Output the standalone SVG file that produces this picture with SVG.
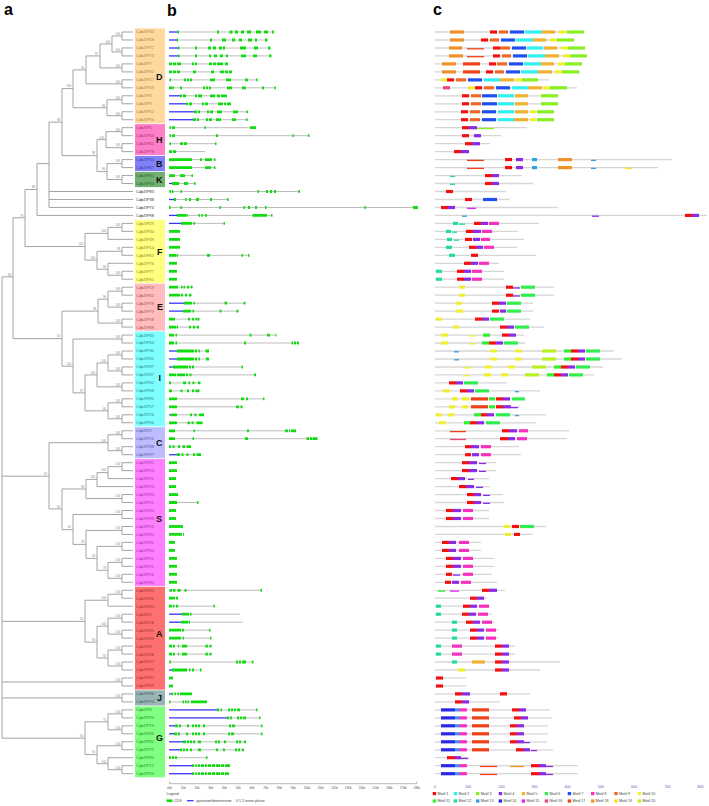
<svg xmlns="http://www.w3.org/2000/svg" width="709" height="806" viewBox="0 0 709 806">
<style>
text{font-family:"Liberation Sans",Arial,sans-serif}
.nm{font-size:4px}
.gl{font-size:9px;font-weight:bold;fill:#111}
.pl{font-size:16px;font-weight:bold;fill:#000}
.tr path{fill:none;stroke:#9a9a9a;stroke-width:0.9;vector-effect:non-scaling-stroke}
.bs text{font-size:2.8px;fill:#808080;text-anchor:end}
.in{stroke:#bdbdbd;stroke-width:1;fill:none}
.ut{stroke:#3535ff;stroke-width:1.3;fill:none}
.ex{stroke:#10dd10;stroke-width:2.8;fill:none}
.ml{stroke:#d6d6d6;stroke-width:1.3;fill:none}
.m{stroke-width:3.2;fill:none}
.th{stroke-width:1.3}
.m1{stroke:#f41010}.m2{stroke:#30f0f0}.m3{stroke:#88f020}.m4{stroke:#8a2be8}.m5{stroke:#f2b030}
.m6{stroke:#30ee50}.m7{stroke:#2050f0}.m8{stroke:#f830c0}.m9{stroke:#f06828}.m10{stroke:#f0f030}
.m11{stroke:#30ee30}.m12{stroke:#20dca0}.m13{stroke:#30a0e0}.m14{stroke:#2828e8}.m15{stroke:#e020f0}
.m16{stroke:#e84878}.m17{stroke:#f04018}.m18{stroke:#f09028}.m19{stroke:#f8e020}.m20{stroke:#b8f020}
.nD{fill:#a8863a}.nH{fill:#a83070}.nB{fill:#3838a0}.nK{fill:#2e602e}.nU{fill:#333}.nF{fill:#8a8a20}
.nE{fill:#a05454}.nI{fill:#208888}.nC{fill:#5a5aa0}.nS{fill:#a030a0}.nA{fill:#a03030}.nJ{fill:#3e5858}.nG{fill:#2a902a}
.ax{stroke:#888;stroke-width:0.6;fill:none}
.sm{font-size:3px;fill:#555}
.lg{font-size:3.6px;fill:#444}
.bl{font-size:3.6px;fill:#5060c0}
</style>

<text class="pl" x="4" y="15">a</text>
<text class="pl" x="167" y="16">b</text>
<text class="pl" x="433" y="15">c</text>

<g id="groups">
<rect x="135" y="28.4" width="30" height="94.9" fill="#ffd9a0"/>
<rect x="135" y="124.1" width="30" height="31.1" fill="#ff80c8"/>
<rect x="135" y="156" width="30" height="15.2" fill="#8080f8"/>
<rect x="135" y="172" width="30" height="15.1" fill="#70b070"/>
<rect x="135" y="219.8" width="30" height="63" fill="#ffff80"/>
<rect x="135" y="283.6" width="30" height="47.1" fill="#ffbcbc"/>
<rect x="135" y="331.5" width="30" height="94.9" fill="#80ffff"/>
<rect x="135" y="427.2" width="30" height="31.1" fill="#bcbcff"/>
<rect x="135" y="459.1" width="30" height="126.8" fill="#ff80ff"/>
<rect x="135" y="586.7" width="30" height="102.9" fill="#ff7070"/>
<rect x="135" y="690.3" width="30" height="15.2" fill="#98b4b4"/>
<rect x="135" y="706.3" width="30" height="71" fill="#80ff80"/>
<text class="gl" x="156" y="80">D</text>
<text class="gl" x="156" y="142.5">H</text>
<text class="gl" x="156" y="166.5">B</text>
<text class="gl" x="156" y="182.5">K</text>
<text class="gl" x="157" y="254.5">F</text>
<text class="gl" x="157" y="309.5">E</text>
<text class="gl" x="158.5" y="380.5">I</text>
<text class="gl" x="156" y="445.5">C</text>
<text class="gl" x="156" y="522">S</text>
<text class="gl" x="156" y="637">A</text>
<text class="gl" x="157" y="701">J</text>
<text class="gl" x="156" y="740.5">G</text>
</g>

<g id="connectors" class="tr" transform="matrix(1,0,0,7.975,0,32)">
<path d="M133 0H122V1H133M133 2H122V3H133M122 0.5H112V2.5H122"/>
<path d="M133 4H122V5H133M112 1.5H100V4.5H122M133 6H122V7H133M100 3H86V6.5H122"/>
<path d="M133 8H122V9H133M133 10H122V11H133M122 8.5H107V10.5H122M86 4.75H73V9.5H107"/>
<path d="M133 12H122V13H133M133 14H122V15H133M122 12.5H106V14.5H122"/>
<path d="M133 16H122V17H133M133 18H122V19H133M122 16.5H107V18.5H122M106 13.5H97V17.5H107M73 7.1H62V15.5H97"/>
<path d="M62 11.3H49V22H133M49 20H133M49 21H133M49 16.5H37V23H133"/>
<path d="M133 24H122V25H133M122 24.5H108V26H133M133 27H122V28H133M133 30H122V31H133M122 30.5H108V29H133M122 27.5H97V29.75H108M108 25.25H85V28.6H97"/>
<path d="M37 19.75H25V26.9H85M25 23.3H13V38.45H62"/>
<path d="M133 32H122V33H133M133 34H122V35H133M122 32.5H108V34.5H122M133 36H122V37H133M108 33.5H98V36.5H122"/>
<path d="M133 38H122V39H133M133 40H122V41H133M133 42H122V43H133M122 40.5H108V42.5H122M133 44H122V45H133M108 41.5H97V44.5H122"/>
<path d="M133 46H122V47H133M133 48H122V49H133M122 46.5H108V48.5H122M97 43H85V47.5H108M122 38.5H73V45.25H85M98 35H62V41.9H73"/>
<path d="M133 50H122V51H133M133 52H122V53H133M122 50.5H108V52.5H122"/>
<path d="M133 54H122V55H133M122 54.5H108V56H133M108 55.25H97V57H133M133 58H122V59H133M97 56.1H86V58.5H122"/>
<path d="M133 60H122V61H133M133 62H122V63H133M133 64H122V65H133M133 66H122V67H133M133 68H122V69H133"/>
<path d="M122 66.5H108V68.5H122M122 64.5H97V67.5H108M122 62.5H86V66H97M122 60.5H73V64.25H86M86 57.3H62V62.4H73M108 51.5H49V59.8H62"/>
<path d="M133 70H122V71H133M122 70.5H108V72H133M133 73H122V74H133M133 75H122V76H133M122 73.5H108V75.5H122"/>
<path d="M133 77H122V78H133M133 79H122V80H133M122 77.5H108V79.5H122M108 74.5H97V78.5H108M108 71.25H85V76.5H97"/>
<path d="M133 81H122V82H133M133 83H122V84H133"/>
<path d="M133 85H122V86H133M133 87H122V88H133M122 85.5H108V87.5H122M133 89H122V90H133M133 92H122V93H133M122 92.5H108V91H133M122 89.5H97V91.75H108M108 86.5H85V90.6H97"/>
<path d="M13 30.7H2V88.55H85M2 55.7H49M2 73.9H85M2 81.5H122M2 83.5H122"/>
</g>

<g id="bootstrap" class="bs">
<text x="120" y="34.8">100</text><text x="120" y="50.7">100</text><text x="110" y="42.8">100</text><text x="120" y="66.7">100</text><text x="98" y="54.7">97</text><text x="120" y="82.6">100</text><text x="84" y="68.7">96</text><text x="120" y="98.6">100</text><text x="120" y="114.5">100</text><text x="105" y="106.6">96</text><text x="71" y="87.4">100</text>
<text x="120" y="130.5">100</text><text x="120" y="146.4">100</text><text x="104" y="138.5">100</text><text x="120" y="162.4">100</text><text x="120" y="178.3">100</text><text x="105" y="170.4">96</text><text x="95" y="154.4">98</text><text x="60" y="120.9">98</text><text x="35" y="188.3">88</text><text x="23" y="216.6">73</text><text x="11" y="275.6">64</text>
<text x="120" y="226.2">100</text><text x="106" y="232.2">100</text><text x="120" y="250.1">98</text><text x="120" y="274">100</text><text x="106" y="268.1">94</text><text x="95" y="258.9">100</text><text x="83" y="245.3">100</text>
<text x="120" y="290">100</text><text x="120" y="305.9">100</text><text x="106" y="298">96</text><text x="120" y="321.9">100</text><text x="96" y="309.9">98</text><text x="60" y="337.4">55</text>
<text x="120" y="337.8">100</text><text x="120" y="353.8">100</text><text x="120" y="369.7">100</text><text x="106" y="361.8">100</text><text x="120" y="385.7">100</text><text x="95" y="373.7">100</text><text x="120" y="401.6">100</text><text x="120" y="417.6">100</text><text x="106" y="409.6">66</text><text x="83" y="391.7">97</text><text x="71" y="365">100</text>
<text x="120" y="433.5">100</text><text x="120" y="449.5">100</text><text x="106" y="441.5">100</text>
<text x="120" y="465.4">100</text><text x="106" y="471.4">100</text><text x="95" y="478.2">100</text><text x="120" y="497.3">100</text><text x="84" y="487.8">98</text><text x="120" y="513.3">100</text><text x="120" y="529.2">100</text><text x="120" y="545.2">100</text><text x="120" y="561.1">100</text><text x="120" y="577.1">100</text><text x="106" y="569.1">74</text><text x="95" y="557.2">58</text><text x="84" y="543.2">58</text><text x="71" y="528.4">62</text><text x="60" y="507.7">62</text><text x="47" y="475">62</text>
<text x="120" y="593">100</text><text x="106" y="599">100</text><text x="120" y="617">100</text><text x="120" y="632.9">100</text><text x="106" y="624.9">100</text><text x="120" y="648.9">100</text><text x="120" y="664.8">100</text><text x="106" y="656.8">92</text><text x="95" y="640.9">93</text><text x="83" y="620.2">55</text><text x="120" y="680.8">100</text>
<text x="120" y="696.7">100</text>
<text x="120" y="712.7">100</text><text x="120" y="728.6">100</text><text x="106" y="720.6">75</text><text x="120" y="744.6">100</text><text x="120" y="768.5">100</text><text x="106" y="762.5">100</text><text x="95" y="753.3">56</text><text x="83" y="737">56</text>
</g>

<g id="rows">
<g id="r0" transform="translate(0,32)"><text class="nm nD" x="136" y="1.4">CqbZIP43</text><path class="in" d="M178 0H273"/><path class="ut" d="M169 0H178"/><path class="ex" d="M177.5 0H179M217 0H219M229.5 0H232.5M235 0H238M241 0H244M247 0H251M256 0H261M264 0H268M272 0H274"/><path class="ml" d="M435 0H584"/><path class="m m18" d="M450 0H464"/><path class="m m1" d="M490 0H497"/><path class="m m9" d="M499 0H508"/><path class="m m7" d="M510 0H524"/><path class="m m2" d="M525 0H542"/><path class="m m5" d="M542 0H555"/><path class="m m10" d="M559 0H566"/><path class="m m3" d="M567 0H584"/></g>
<g id="r1" transform="translate(0,40)"><text class="nm nD" x="136" y="1.4">CqbZIP58</text><path class="in" d="M177 0H267"/><path class="ut" d="M169 0H177"/><path class="ex" d="M176.5 0H178M210 0H212M222 0H226M232 0H235M239 0H242M248 0H252M255 0H257M265 0H267.5"/><path class="ml" d="M435 0H574"/><path class="m m18" d="M450 0H464"/><path class="m m1" d="M481 0H488"/><path class="m m9" d="M490 0H499"/><path class="m m7" d="M501 0H515"/><path class="m m2" d="M516 0H533"/><path class="m m5" d="M533 0H546"/><path class="m m10" d="M550 0H557"/><path class="m m3" d="M557 0H574"/></g>
<g id="r2" transform="translate(0,48)"><text class="nm nD" x="136" y="1.4">CqbZIP72</text><path class="in" d="M178 0H270"/><path class="ut" d="M169 0H178"/><path class="ex" d="M178 0H179.5M195 0H197M208 0H211M213 0H216M219 0H222M223 0H225M240 0H246M254 0H258M268 0H270.5"/><path class="ml" d="M435 0H585"/><path class="m m18" d="M449 0H462"/><path class="m m17 th" d="M467 0.8H484"/><path class="m m1" d="M493 0H500"/><path class="m m9" d="M500 0H510"/><path class="m m7" d="M512 0H526"/><path class="m m2" d="M527 0H543"/><path class="m m5" d="M544 0H557"/><path class="m m10" d="M561 0H568"/><path class="m m3" d="M568 0H585"/></g>
<g id="r3" transform="translate(0,55.9)"><text class="nm nD" x="136" y="1.4">CqbZIP73</text><path class="in" d="M178 0H271"/><path class="ut" d="M169 0H178"/><path class="ex" d="M178 0H179.5M195 0H197M209 0H211M214 0H217M220 0H223M226 0H228M241 0H246M253 0H257M269 0H271.5"/><path class="ml" d="M435 0H587"/><path class="m m18" d="M449 0H463"/><path class="m m17 th" d="M467 0.8H484"/><path class="m m1" d="M493 0H500"/><path class="m m9" d="M502 0H511"/><path class="m m7" d="M513 0H527"/><path class="m m2" d="M528 0H545"/><path class="m m5" d="M545 0H559"/><path class="m m10" d="M563 0H570"/><path class="m m3" d="M570 0H587"/></g>
<g id="r4" transform="translate(0,63.9)"><text class="nm nD" x="136" y="1.4">CqbZIP7</text><path class="in" d="M169 0H228"/><path class="ex" d="M169 0H172M173 0H176M177 0H181M192 0H194M195 0H197M209 0H212M213 0H216M217 0H223M225 0H228"/><path class="ml" d="M435 0H582"/><path class="m m18" d="M442 0H456"/><path class="m m17" d="M463 0H480"/><path class="m m1" d="M489 0H496"/><path class="m m9" d="M497 0H507"/><path class="m m7" d="M509 0H523"/><path class="m m2" d="M524 0H541"/><path class="m m5" d="M541 0H554"/><path class="m m10" d="M558 0H565"/><path class="m m3" d="M565 0H582"/></g>
<g id="r5" transform="translate(0,71.9)"><text class="nm nD" x="136" y="1.4">CqbZIP92</text><path class="in" d="M169 0H232"/><path class="ex" d="M169 0H172M173 0H176M177 0H180M193 0H196M211 0H214M220 0H224M225 0H228M229 0H232"/><path class="ml" d="M435 0H580"/><path class="m m18" d="M442 0H456"/><path class="m m17" d="M463 0H480"/><path class="m m1" d="M486 0H493"/><path class="m m9" d="M495 0H504"/><path class="m m7" d="M506 0H520"/><path class="m m2" d="M521 0H538"/><path class="m m5" d="M538 0H552"/><path class="m m10" d="M555 0H562"/><path class="m m3" d="M562 0H579"/></g>
<g id="r6" transform="translate(0,79.9)"><text class="nm nD" x="136" y="1.4">CqbZIP27</text><path class="in" d="M169 0H257"/><path class="ex" d="M169.5 0H171M184 0H186M187 0H189M190 0H192M210 0H215M226 0H231M245 0H248M256 0H257.5"/><path class="ml" d="M435 0H549"/><path class="m m10" d="M441 0H447M515 0H522"/><path class="m m1" d="M447 0H454"/><path class="m m9" d="M456 0H466"/><path class="m m7" d="M468 0H482"/><path class="m m2" d="M484 0H500"/><path class="m m5" d="M500 0H514"/><path class="m m3" d="M522 0H538"/></g>
<g id="r7" transform="translate(0,87.8)"><text class="nm nD" x="136" y="1.4">CqbZIP59</text><path class="in" d="M169 0H275"/><path class="ex" d="M169 0H172M172.5 0H174M180 0H182M203 0H205M206 0H208M209 0H211M227 0H232M242 0H246M262 0H264M274.5 0H276"/><path class="ml" d="M435 0H577"/><path class="m m16" d="M443 0H450"/><path class="m m10" d="M468 0H475M543 0H550"/><path class="m m1" d="M475 0H482"/><path class="m m9" d="M484 0H494"/><path class="m m7" d="M496 0H510"/><path class="m m2" d="M512 0H528"/><path class="m m5" d="M528 0H542"/><path class="m m3" d="M550 0H567"/></g>
<g id="r8" transform="translate(0,95.8)"><text class="nm nD" x="136" y="1.4">CqbZIP4</text><path class="in" d="M180 0H227"/><path class="ut" d="M169 0H180"/><path class="ex" d="M180 0H182M183 0H186M195 0H197M198 0H202M210 0H215M217 0H220M221 0H227"/><path class="ml" d="M435 0H558"/><path class="m m1" d="M462 0H469"/><path class="m m9" d="M471 0H481"/><path class="m m7" d="M482 0H497"/><path class="m m2" d="M498 0H514"/><path class="m m5" d="M515 0H528"/><path class="m m3" d="M541 0H558"/></g>
<g id="r9" transform="translate(0,103.8)"><text class="nm nD" x="136" y="1.4">CqbZIP9</text><path class="in" d="M186 0H231"/><path class="ut" d="M169 0H186"/><path class="ex" d="M186 0H188M189 0H192M202 0H204M205 0H208M218 0H223M224 0H226M227 0H231"/><path class="ml" d="M435 0H558"/><path class="m m1" d="M462 0H469"/><path class="m m9" d="M471 0H481"/><path class="m m7" d="M482 0H497"/><path class="m m2" d="M498 0H514"/><path class="m m5" d="M515 0H528"/><path class="m m3" d="M541 0H558"/></g>
<g id="r10" transform="translate(0,111.8)"><text class="nm nD" x="136" y="1.4">CqbZIP52</text><path class="in" d="M194 0H248"/><path class="ut" d="M169 0H194"/><path class="ex" d="M194 0H197M198 0H200M207 0H209M210 0H213M217 0H222M233 0H238M246.5 0H248"/><path class="ml" d="M435 0H554"/><path class="m m1" d="M461 0H468"/><path class="m m9" d="M470 0H480"/><path class="m m7" d="M482 0H496"/><path class="m m2" d="M498 0H514"/><path class="m m5" d="M515 0H528"/><path class="m m10" d="M530 0H536"/><path class="m m3" d="M537 0H554"/></g>
<g id="r11" transform="translate(0,119.7)"><text class="nm nD" x="136" y="1.4">CqbZIP94</text><path class="in" d="M193 0H248"/><path class="ut" d="M169 0H193"/><path class="ex" d="M193 0H196M197 0H199M206 0H208M209 0H212M216 0H221M232 0H236M246 0H247.5"/><path class="ml" d="M435 0H554"/><path class="m m1" d="M461 0H468"/><path class="m m9" d="M470 0H480"/><path class="m m7" d="M482 0H496"/><path class="m m2" d="M498 0H514"/><path class="m m5" d="M514 0H528"/><path class="m m10" d="M530 0H536"/><path class="m m3" d="M537 0H554"/></g>
<g id="r12" transform="translate(0,127.7)"><text class="nm nH" x="136" y="1.4">CqbZIP5</text><path class="in" d="M169 0H256"/><path class="ex" d="M169.5 0H171M172 0H175M204.5 0H206M250 0H256"/><path class="ml" d="M435 0H527"/><path class="m m1" d="M462 0H469"/><path class="m m4" d="M469 0H477"/><path class="m m3 th" d="M477 0.8H494"/></g>
<g id="r13" transform="translate(0,135.7)"><text class="nm nH" x="136" y="1.4">CqbZIP56</text><path class="in" d="M169 0H309"/><path class="ex" d="M169.5 0H171M172 0H175M216 0H218M292.5 0H294M308 0H309.5"/><path class="ml" d="M435 0H501"/><path class="m m1" d="M462 0H469"/><path class="m m4" d="M474 0H481"/></g>
<g id="r14" transform="translate(0,143.7)"><text class="nm nH" x="136" y="1.4">CqbZIP61</text><path class="in" d="M169 0H216"/><path class="ex" d="M169.5 0H171M180 0H183M184 0H187M215 0H216.5"/><path class="ml" d="M435 0H490"/><path class="m m1" d="M465 0H472"/><path class="m m4" d="M472 0H480"/></g>
<g id="r15" transform="translate(0,151.6)"><text class="nm nH" x="136" y="1.4">CqbZIP78</text><path class="in" d="M169 0H205"/><path class="ex" d="M169 0H172M173 0H176"/><path class="ml" d="M435 0H469"/><path class="m m1" d="M454 0H461"/><path class="m m4" d="M461 0H469"/></g>
<g id="r16" transform="translate(0,159.6)"><text class="nm nB" x="136" y="1.4">CqbZIP44</text><path class="in" d="M169 0H215"/><path class="ex" d="M169 0H192M200 0H202M205 0H212M214 0H215.5"/><path class="ml" d="M435 0H672"/><path class="m m17 th" d="M467 0.8H484"/><path class="m m1" d="M505 0H512"/><path class="m m4" d="M516 0H523"/><path class="m m13" d="M532 0H537"/><path class="m m18" d="M558 0H572"/><path class="m m13 th" d="M591 0.8H596"/></g>
<g id="r17" transform="translate(0,167.6)"><text class="nm nB" x="136" y="1.4">CqbZIP67</text><path class="in" d="M169 0H215"/><path class="ex" d="M169 0H192M205 0H211M214 0H215.5"/><path class="ml" d="M435 0H658"/><path class="m m17 th" d="M467 0.8H484"/><path class="m m1" d="M505 0H512"/><path class="m m4" d="M516 0H523"/><path class="m m13" d="M532 0H537"/><path class="m m18" d="M558 0H572"/><path class="m m13 th" d="M591 0.8H596"/><path class="m m19 th" d="M625 0.8H632"/></g>
<g id="r18" transform="translate(0,175.6)"><text class="nm nK" x="136" y="1.4">CqbZIP81</text><path class="in" d="M169 0H192"/><path class="ex" d="M169 0H175M180 0H185M191.5 0H193"/><path class="ml" d="M435 0H522"/><path class="m m12 th" d="M450 0.8H455"/><path class="m m1" d="M485 0H492"/><path class="m m4" d="M492 0H499"/></g>
<g id="r19" transform="translate(0,183.5)"><text class="nm nK" x="136" y="1.4">CqbZIP90</text><path class="in" d="M172 0H195"/><path class="ut" d="M169 0H172"/><path class="ex" d="M172 0H179M184 0H188M194 0H195.5"/><path class="ml" d="M435 0H533"/><path class="m m12 th" d="M450 0.8H455"/><path class="m m1" d="M485 0H492"/><path class="m m4" d="M492 0H499"/></g>
<g id="r20" transform="translate(0,191.5)"><text class="nm nU" x="136" y="1.4">CqbZIP83</text><path class="in" d="M169 0H299"/><path class="ex" d="M169.5 0H171M172 0H173.5M180.5 0H182M257.5 0H259M266 0H268M270 0H272M274 0H276M298.5 0H300"/><path class="ml" d="M435 0H506"/><path class="m m1" d="M446 0H453"/></g>
<g id="r21" transform="translate(0,199.5)"><text class="nm nU" x="136" y="1.4">CqbZIP38</text><path class="in" d="M174 0H228"/><path class="ut" d="M169 0H174"/><path class="ex" d="M174 0H176M185 0H186.5M189 0H191M196 0H199M210 0H212M227 0H228.5"/><path class="ml" d="M435 0H510"/><path class="m m1" d="M465 0H472"/><path class="m m7" d="M483 0H497"/></g>
<g id="r22" transform="translate(0,207.5)"><text class="nm nU" x="136" y="1.4">CqbZIP74</text><path class="in" d="M169 0H418"/><path class="ex" d="M169 0H170.5M180.5 0H182M219.5 0H221M243.5 0H245M248 0H250M255 0H257M265 0H266.5M364.5 0H366M413 0H418"/><path class="ml" d="M435 0H558"/><path class="m m1" d="M441 0H448"/><path class="m m4" d="M448 0H455"/><path class="m m15 th" d="M467 0.8H476"/></g>
<g id="r23" transform="translate(0,215.4)"><text class="nm nU" x="136" y="1.4">CqbZIP98</text><path class="in" d="M177 0H272"/><path class="ut" d="M169 0H177"/><path class="ex" d="M177 0H186M186.5 0H188M198.5 0H200M201.5 0H203M205 0H207M252.5 0H267M271 0H272.5"/><path class="ml" d="M435 0H707"/><path class="m m13 th" d="M462 0.8H467"/><path class="m m4 th" d="M592 0.8H599"/><path class="m m1" d="M685 0H692"/><path class="m m4" d="M692 0H699"/></g>
<g id="r24" transform="translate(0,223.4)"><text class="nm nF" x="136" y="1.4">CqbZIP29</text><path class="in" d="M181 0H224"/><path class="ut" d="M169 0H181"/><path class="ex" d="M181 0H192M193.5 0H195M223.5 0H225"/><path class="ml" d="M435 0H539"/><path class="m m12" d="M453 0H458"/><path class="m m12 th" d="M459 0.8H465"/><path class="m m1" d="M474 0H481"/><path class="m m4" d="M481 0H488"/><path class="m m8" d="M489 0H499"/></g>
<g id="r25" transform="translate(0,231.4)"><text class="nm nF" x="136" y="1.4">CqbZIP34</text><path class="ex" d="M169 0H180"/><path class="ml" d="M435 0H518"/><path class="m m12" d="M446 0H451"/><path class="m m12 th" d="M452 0.8H457"/><path class="m m1" d="M466 0H473"/><path class="m m4" d="M473 0H481"/><path class="m m8" d="M482 0H492"/></g>
<g id="r26" transform="translate(0,239.4)"><text class="nm nF" x="136" y="1.4">CqbZIP39</text><path class="ex" d="M169 0H180"/><path class="ml" d="M435 0H524"/><path class="m m12" d="M447 0H452"/><path class="m m12 th" d="M454 0.8H459"/><path class="m m1" d="M465 0H472"/><path class="m m4" d="M473 0H480"/><path class="m m8" d="M481 0H490"/></g>
<g id="r27" transform="translate(0,247.3)"><text class="nm nF" x="136" y="1.4">CqbZIP14</text><path class="ex" d="M169 0H180"/><path class="ml" d="M435 0H517"/><path class="m m12" d="M446 0H452"/><path class="m m1" d="M469 0H476"/><path class="m m4" d="M476 0H483"/><path class="m m8" d="M484 0H494"/></g>
<g id="r28" transform="translate(0,255.3)"><text class="nm nF" x="136" y="1.4">CqbZIP65</text><path class="in" d="M169 0H249"/><path class="ex" d="M169 0H176M176.5 0H178M207 0H210M241.5 0H243M248 0H249.5"/><path class="ml" d="M435 0H536"/><path class="m m12" d="M449 0H455"/><path class="m m1" d="M471 0H478"/></g>
<g id="r29" transform="translate(0,263.3)"><text class="nm nF" x="136" y="1.4">CqbZIP76</text><path class="ex" d="M169 0H177"/><path class="ml" d="M435 0H499"/><path class="m m1" d="M464 0H471"/><path class="m m4" d="M471 0H478"/><path class="m m8" d="M479 0H489"/></g>
<g id="r30" transform="translate(0,271.3)"><text class="nm nF" x="136" y="1.4">CqbZIP77</text><path class="ex" d="M169 0H177"/><path class="ml" d="M435 0H504"/><path class="m m12" d="M436 0H442"/><path class="m m1" d="M457 0H464"/><path class="m m4" d="M464 0H471"/><path class="m m8" d="M472 0H482"/></g>
<g id="r31" transform="translate(0,279.2)"><text class="nm nF" x="136" y="1.4">CqbZIP91</text><path class="ex" d="M169 0H177"/><path class="ml" d="M435 0H504"/><path class="m m12" d="M436 0H442"/><path class="m m1" d="M457 0H464"/><path class="m m4" d="M464 0H471"/><path class="m m8" d="M472 0H482"/></g>
<g id="r32" transform="translate(0,287.2)"><text class="nm nE" x="136" y="1.4">CqbZIP13</text><path class="in" d="M169 0H193"/><path class="ex" d="M169 0H178M181 0H182.5M183.5 0H185M187 0H189M190.5 0H192.5"/><path class="ml" d="M435 0H554"/><path class="m m10" d="M459 0H465"/><path class="m m1" d="M506 0H513"/><path class="m m4 th" d="M513 0.8H520"/><path class="m m6" d="M521 0H535"/></g>
<g id="r33" transform="translate(0,295.2)"><text class="nm nE" x="136" y="1.4">CqbZIP55</text><path class="in" d="M169 0H191"/><path class="ex" d="M169 0H180M181 0H183M185 0H187M189 0H191.5"/><path class="ml" d="M435 0H554"/><path class="m m10" d="M459 0H465"/><path class="m m1" d="M506 0H513"/><path class="m m4 th" d="M513 0.8H520"/><path class="m m6" d="M521 0H535"/></g>
<g id="r34" transform="translate(0,303.2)"><text class="nm nE" x="136" y="1.4">CqbZIP78</text><path class="in" d="M184 0H245"/><path class="ut" d="M169 0H184"/><path class="ex" d="M184 0H192M193.5 0H195M224.5 0H227M243.5 0H245.5"/><path class="ml" d="M435 0H533"/><path class="m m10" d="M456 0H462"/><path class="m m1" d="M492 0H499"/><path class="m m4" d="M499 0H506"/><path class="m m6" d="M507 0H521"/></g>
<g id="r35" transform="translate(0,311.1)"><text class="nm nE" x="136" y="1.4">CqbZIP79</text><path class="in" d="M183 0H238"/><path class="ut" d="M169 0H183"/><path class="ex" d="M183 0H191M192.5 0H194M219.5 0H221.5M236.5 0H238.5"/><path class="ml" d="M435 0H533"/><path class="m m10" d="M456 0H463"/><path class="m m1" d="M492 0H499"/><path class="m m4" d="M500 0H506"/><path class="m m6" d="M507 0H521"/></g>
<g id="r36" transform="translate(0,319.1)"><text class="nm nE" x="136" y="1.4">CqbZIP58</text><path class="in" d="M169 0H199"/><path class="ex" d="M169 0H175M188 0H190M192 0H194M195.5 0H197M197.5 0H199.5"/><path class="ml" d="M435 0H530"/><path class="m m10" d="M436 0H442"/><path class="m m1" d="M475 0H482"/><path class="m m4" d="M482 0H489"/><path class="m m6" d="M490 0H504"/></g>
<g id="r37" transform="translate(0,327.1)"><text class="nm nE" x="136" y="1.4">CqbZIP88</text><path class="in" d="M169 0H199"/><path class="ex" d="M169 0H176M176.5 0H178M189 0H191M193 0H195M196.5 0H199"/><path class="ml" d="M435 0H544"/><path class="m m10" d="M453 0H459"/><path class="m m1" d="M500 0H507"/><path class="m m4" d="M507 0H514"/><path class="m m6" d="M515 0H529"/></g>
<g id="r38" transform="translate(0,335.1)"><text class="nm nI" x="136" y="1.4">CqbZIP35</text><path class="in" d="M169 0H276"/><path class="ex" d="M169 0H174M175.5 0H177M249.5 0H251.5M267 0H270M275.5 0H276.5"/><path class="ml" d="M435 0H524"/><path class="m m10" d="M441 0H448"/><path class="m m10 th" d="M470 0.8H476"/><path class="m m11" d="M483 0H490"/><path class="m m1" d="M502 0H509"/><path class="m m4" d="M509 0H516"/></g>
<g id="r39" transform="translate(0,343)"><text class="nm nI" x="136" y="1.4">CqbZIP64</text><path class="in" d="M169 0H299"/><path class="ex" d="M169 0H174M175.5 0H177M244 0H246M291.5 0H293M294 0H296M297 0H299"/><path class="ml" d="M435 0H525"/><path class="m m10" d="M441 0H448"/><path class="m m10 th" d="M469 0.8H476"/><path class="m m11" d="M482 0H489"/><path class="m m1" d="M489 0H496"/><path class="m m4" d="M496 0H503"/><path class="m m6" d="M504 0H518"/></g>
<g id="r40" transform="translate(0,351)"><text class="nm nI" x="136" y="1.4">CqbZIP30</text><path class="in" d="M177 0H209"/><path class="ut" d="M169 0H177"/><path class="ex" d="M177 0H194M195 0H197M198.5 0H200M205.5 0H209"/><path class="ml" d="M435 0H614"/><path class="m m13 th" d="M454 0.8H459"/><path class="m m10" d="M490 0H497M515 0H522"/><path class="m m20" d="M542 0H556"/><path class="m m11" d="M564 0H571"/><path class="m m1" d="M571 0H578"/><path class="m m4" d="M578 0H585"/><path class="m m6" d="M586 0H600"/></g>
<g id="r41" transform="translate(0,359)"><text class="nm nI" x="136" y="1.4">CqbZIP41</text><path class="in" d="M177 0H209"/><path class="ut" d="M169 0H177"/><path class="ex" d="M177 0H194M195 0H197M198.5 0H200M206 0H209"/><path class="ml" d="M435 0H622"/><path class="m m13 th" d="M454 0.8H459"/><path class="m m10" d="M490 0H497M515 0H522"/><path class="m m20" d="M542 0H556"/><path class="m m11" d="M564 0H571"/><path class="m m1" d="M571 0H578"/><path class="m m4" d="M578 0H585"/><path class="m m6" d="M586 0H600"/></g>
<g id="r42" transform="translate(0,367)"><text class="nm nI" x="136" y="1.4">CqbZIP37</text><path class="in" d="M173 0H242"/><path class="ut" d="M169 0H173"/><path class="ex" d="M173 0H188M189 0H191M192 0H194M241.5 0H243"/><path class="ml" d="M435 0H603"/><path class="m m10 th" d="M464 0.8H471"/><path class="m m10" d="M485 0H492M508 0H515"/><path class="m m20" d="M532 0H546"/><path class="m m11" d="M554 0H561"/><path class="m m1" d="M561 0H568"/><path class="m m4" d="M568 0H575"/><path class="m m6" d="M576 0H590"/></g>
<g id="r43" transform="translate(0,374.9)"><text class="nm nI" x="136" y="1.4">CqbZIP47</text><path class="in" d="M169 0H256"/><path class="ex" d="M169 0H176M177 0H185M186 0H188M189.5 0H191.5M254 0H256"/><path class="ml" d="M435 0H594"/><path class="m m10 th" d="M463 0.8H470"/><path class="m m10" d="M484 0H491M501 0H508"/><path class="m m20" d="M525 0H539"/><path class="m m11" d="M547 0H554"/><path class="m m1" d="M554 0H561"/><path class="m m4" d="M561 0H568"/><path class="m m6" d="M569 0H583"/></g>
<g id="r44" transform="translate(0,382.9)"><text class="nm nI" x="136" y="1.4">CqbZIP62</text><path class="in" d="M169 0H200"/><path class="ex" d="M169 0H171M183 0H186M188.5 0H190M192.5 0H194.5M198 0H200.5"/><path class="ml" d="M435 0H507"/><path class="m m1" d="M449 0H456"/><path class="m m4" d="M456 0H463"/><path class="m m6" d="M464 0H478"/></g>
<g id="r45" transform="translate(0,390.9)"><text class="nm nI" x="136" y="1.4">CqbZIP68</text><path class="in" d="M169 0H199"/><path class="ex" d="M169 0H172M180.5 0H182.5M187 0H189M192 0H194M195.5 0H199.5"/><path class="ml" d="M435 0H540"/><path class="m m10" d="M443 0H450"/><path class="m m1" d="M460 0H467"/><path class="m m4" d="M467 0H474"/><path class="m m6" d="M475 0H489"/><path class="m m13 th" d="M515 0.8H519"/></g>
<g id="r46" transform="translate(0,398.9)"><text class="nm nI" x="136" y="1.4">CqbZIP85</text><path class="in" d="M169 0H264"/><path class="ex" d="M169 0H177M241 0H244M246 0H248M263 0H264.5"/><path class="ml" d="M435 0H525"/><path class="m m10" d="M452 0H458M462 0H469"/><path class="m m17" d="M471 0H488"/><path class="m m11" d="M489 0H495"/><path class="m m1" d="M496 0H503"/><path class="m m4" d="M503 0H510"/><path class="m m6" d="M512 0H525"/></g>
<g id="r47" transform="translate(0,406.8)"><text class="nm nI" x="136" y="1.4">CqbZIP57</text><path class="in" d="M169 0H242"/><path class="ex" d="M169 0H177M236 0H239M240.5 0H242.5"/><path class="ml" d="M435 0H520"/><path class="m m10" d="M449 0H455M462 0H468"/><path class="m m17" d="M471 0H488"/><path class="m m11" d="M489 0H495"/><path class="m m1" d="M496 0H503"/><path class="m m4" d="M503 0H511"/><path class="m m4 th" d="M511 0.8H518"/></g>
<g id="r48" transform="translate(0,414.8)"><text class="nm nI" x="136" y="1.4">CqbZIP26</text><path class="in" d="M171 0H204"/><path class="ut" d="M169 0H171"/><path class="ex" d="M171 0H177M190 0H192M194.5 0H196.5M199 0H204"/><path class="ml" d="M435 0H546"/><path class="m m10" d="M436 0H442M448 0H454"/><path class="m m11" d="M474 0H481"/><path class="m m1" d="M481 0H487"/><path class="m m4" d="M487 0H494"/><path class="m m6" d="M496 0H510"/><path class="m m13 th" d="M515 0.8H519"/></g>
<g id="r49" transform="translate(0,422.8)"><text class="nm nI" x="136" y="1.4">CqbZIP94</text><path class="in" d="M169 0H203"/><path class="ex" d="M169 0H177M187.5 0H190M191.5 0H193.5M196.5 0H202.5"/><path class="ml" d="M435 0H536"/><path class="m m10" d="M439 0H446"/><path class="m m11" d="M464 0H470"/><path class="m m1" d="M470 0H477"/><path class="m m4" d="M477 0H484"/><path class="m m6" d="M486 0H500"/></g>
<g id="r50" transform="translate(0,430.8)"><text class="nm nC" x="136" y="1.4">CqbZIP2</text><path class="in" d="M169 0H296"/><path class="ex" d="M169 0H175M193.5 0H195M247 0H249M285 0H288M289 0H290M291 0H296"/><path class="ml" d="M435 0H569"/><path class="m m17 th" d="M450 0.8H466"/><path class="m m1" d="M502 0H509"/><path class="m m4" d="M509 0H517"/><path class="m m8" d="M519 0H528"/></g>
<g id="r51" transform="translate(0,438.7)"><text class="nm nC" x="136" y="1.4">CqbZIP15</text><path class="in" d="M169 0H317"/><path class="ex" d="M169 0H175M192.5 0H194M245 0H248M306.5 0H309M310 0H312M312.5 0H317.5"/><path class="ml" d="M435 0H567"/><path class="m m16 th" d="M450 0.8H466"/><path class="m m1" d="M500 0H508"/><path class="m m4" d="M508 0H515"/><path class="m m8" d="M517 0H527"/></g>
<g id="r52" transform="translate(0,446.7)"><text class="nm nC" x="136" y="1.4">CqbZIP48</text><path class="in" d="M169 0H191"/><path class="ex" d="M169 0H171M172.5 0H174.5M178 0H180M182.5 0H185M186.5 0H191"/><path class="ml" d="M435 0H519"/><path class="m m1" d="M465 0H471"/><path class="m m4" d="M471 0H479"/><path class="m m8" d="M481 0H491"/></g>
<g id="r53" transform="translate(0,454.7)"><text class="nm nC" x="136" y="1.4">CqbZIP97</text><path class="in" d="M177 0H201"/><path class="ut" d="M169 0H177"/><path class="ex" d="M177 0H180M181.5 0H183.5M186.5 0H188.5M193 0H195M196.5 0H201"/><path class="ml" d="M435 0H521"/><path class="m m1" d="M465 0H471"/><path class="m m4" d="M472 0H479"/><path class="m m8" d="M481 0H491"/></g>
<g id="r54" transform="translate(0,462.7)"><text class="nm nS" x="136" y="1.4">CqbZIP25</text><path class="ex" d="M169 0H177"/><path class="ml" d="M435 0H496"/><path class="m m1" d="M462 0H469"/><path class="m m4" d="M469 0H477"/><path class="m m4 th" d="M479 0.8H486"/></g>
<g id="r55" transform="translate(0,470.6)"><text class="nm nS" x="136" y="1.4">CqbZIP53</text><path class="ex" d="M169 0H177"/><path class="ml" d="M435 0H496"/><path class="m m1" d="M462 0H469"/><path class="m m4" d="M469 0H477"/><path class="m m4 th" d="M479 0.8H486"/></g>
<g id="r56" transform="translate(0,478.6)"><text class="nm nS" x="136" y="1.4">CqbZIP22</text><path class="ex" d="M169 0H176"/><path class="ml" d="M435 0H489"/><path class="m m1" d="M451 0H458"/><path class="m m4" d="M458 0H465"/><path class="m m4 th" d="M468 0.8H474"/></g>
<g id="r57" transform="translate(0,486.6)"><text class="nm nS" x="136" y="1.4">CqbZIP23</text><path class="ex" d="M169 0H176"/><path class="ml" d="M435 0H490"/><path class="m m1" d="M459 0H466"/><path class="m m4" d="M466 0H474"/><path class="m m4 th" d="M476 0.8H483"/></g>
<g id="r58" transform="translate(0,494.6)"><text class="nm nS" x="136" y="1.4">CqbZIP33</text><path class="ex" d="M169 0H178"/><path class="ml" d="M435 0H503"/><path class="m m1" d="M467 0H474"/><path class="m m4" d="M474 0H481"/><path class="m m4 th" d="M483 0.8H490"/></g>
<g id="r59" transform="translate(0,502.5)"><text class="nm nS" x="136" y="1.4">CqbZIP51</text><path class="in" d="M169 0H198"/><path class="ex" d="M169 0H177M197 0H198.5"/><path class="ml" d="M435 0H504"/><path class="m m1" d="M467 0H474"/><path class="m m4" d="M474 0H481"/><path class="m m4 th" d="M483 0.8H490"/></g>
<g id="r60" transform="translate(0,510.5)"><text class="nm nS" x="136" y="1.4">CqbZIP40</text><path class="ex" d="M169 0H176"/><path class="ml" d="M435 0H489"/><path class="m m1" d="M446 0H453"/><path class="m m4" d="M453 0H461"/><path class="m m8" d="M463 0H473"/></g>
<g id="r61" transform="translate(0,518.5)"><text class="nm nS" x="136" y="1.4">CqbZIP93</text><path class="ex" d="M169 0H176"/><path class="ml" d="M435 0H489"/><path class="m m1" d="M446 0H453"/><path class="m m4" d="M453 0H461"/><path class="m m8" d="M463 0H473"/></g>
<g id="r62" transform="translate(0,526.5)"><text class="nm nS" x="136" y="1.4">CqbZIP10</text><path class="ex" d="M169 0H183"/><path class="ml" d="M435 0H546"/><path class="m m10" d="M504 0H510"/><path class="m m1" d="M512 0H519"/><path class="m m6" d="M520 0H534"/></g>
<g id="r63" transform="translate(0,534.4)"><text class="nm nS" x="136" y="1.4">CqbZIP20</text><path class="ex" d="M169 0H182M183 0H184"/><path class="ml" d="M435 0H533"/><path class="m m10" d="M505 0H511"/><path class="m m1" d="M514 0H520"/></g>
<g id="r64" transform="translate(0,542.4)"><text class="nm nS" x="136" y="1.4">CqbZIP32</text><path class="ex" d="M169 0H175"/><path class="ml" d="M435 0H481"/><path class="m m1" d="M442 0H449"/><path class="m m4" d="M449 0H456"/><path class="m m8" d="M459 0H469"/></g>
<g id="r65" transform="translate(0,550.4)"><text class="nm nS" x="136" y="1.4">CqbZIP50</text><path class="ex" d="M169 0H175"/><path class="ml" d="M435 0H481"/><path class="m m1" d="M442 0H449"/><path class="m m4" d="M449 0H456"/><path class="m m8" d="M459 0H469"/></g>
<g id="r66" transform="translate(0,558.4)"><text class="nm nS" x="136" y="1.4">CqbZIP11</text><path class="ex" d="M169 0H177"/><path class="ml" d="M435 0H494"/><path class="m m1" d="M446 0H453"/><path class="m m4" d="M453 0H461"/><path class="m m8" d="M463 0H473"/></g>
<g id="r67" transform="translate(0,566.3)"><text class="nm nS" x="136" y="1.4">CqbZIP21</text><path class="ex" d="M169 0H177"/><path class="ml" d="M435 0H494"/><path class="m m1" d="M446 0H453"/><path class="m m4" d="M453 0H461"/><path class="m m8" d="M463 0H473"/></g>
<g id="r68" transform="translate(0,574.3)"><text class="nm nS" x="136" y="1.4">CqbZIP16</text><path class="ex" d="M169 0H177"/><path class="ml" d="M435 0H492"/><path class="m m1" d="M446 0H452"/><path class="m m4 th" d="M453 0.8H460"/><path class="m m8" d="M463 0H473"/></g>
<g id="r69" transform="translate(0,582.3)"><text class="nm nS" x="136" y="1.4">CqbZIP80</text><path class="ex" d="M169 0H177"/><path class="ml" d="M435 0H497"/><path class="m m1" d="M445 0H451"/><path class="m m4" d="M452 0H459"/><path class="m m8" d="M461 0H471"/></g>
<g id="r70" transform="translate(0,590.3)"><text class="nm nA" x="136" y="1.4">CqbZIP63</text><path class="in" d="M169 0H261"/><path class="ex" d="M169.5 0H172M173 0H175.5M177.5 0H180.5M184.5 0H186.5M260.5 0H262"/><path class="ml" d="M435 0H505"/><path class="m m11 th" d="M438 0.8H445"/><path class="m m15 th" d="M450 0.8H459"/><path class="m m1" d="M482 0H489"/><path class="m m4" d="M489 0H497"/></g>
<g id="r71" transform="translate(0,598.2)"><text class="nm nA" x="136" y="1.4">CqbZIP36</text><path class="in" d="M169 0H178"/><path class="ex" d="M169 0H175M176 0H178"/><path class="ml" d="M435 0H487"/><path class="m m1" d="M470 0H477"/><path class="m m4" d="M477 0H484"/></g>
<g id="r72" transform="translate(0,606.2)"><text class="nm nA" x="136" y="1.4">CqbZIP62</text><path class="in" d="M169 0H214"/><path class="ex" d="M169 0H172M173 0H174.5M176 0H178M213.5 0H215"/><path class="ml" d="M435 0H490"/><path class="m m12" d="M436 0H441"/><path class="m m1" d="M463 0H470"/><path class="m m4" d="M470 0H477"/><path class="m m8" d="M479 0H489"/></g>
<g id="r73" transform="translate(0,614.2)"><text class="nm nA" x="136" y="1.4">CqbZIP1</text><path class="in" d="M182 0H240"/><path class="ut" d="M169 0H182"/><path class="ex" d="M182 0H189M190 0H191.5"/><path class="ml" d="M435 0H492"/><path class="m m12" d="M436 0H441"/><path class="m m1" d="M462 0H469"/><path class="m m4" d="M469 0H476"/><path class="m m8" d="M478 0H488"/></g>
<g id="r74" transform="translate(0,622.2)"><text class="nm nA" x="136" y="1.4">CqbZIP18</text><path class="in" d="M181 0H243"/><path class="ut" d="M169 0H181"/><path class="ex" d="M181 0H188M188.5 0H190"/><path class="ml" d="M435 0H495"/><path class="m m12" d="M452 0H457"/><path class="m m1" d="M466 0H473"/><path class="m m4" d="M473 0H480"/><path class="m m8" d="M482 0H492"/></g>
<g id="r75" transform="translate(0,630.1)"><text class="nm nA" x="136" y="1.4">CqbZIP45</text><path class="in" d="M169 0H210"/><path class="ex" d="M169 0H181M182 0H184M209 0H210.5"/><path class="ml" d="M435 0H498"/><path class="m m12" d="M452 0H457"/><path class="m m1" d="M470 0H477"/><path class="m m4" d="M477 0H484"/><path class="m m8" d="M486 0H496"/></g>
<g id="r76" transform="translate(0,638.1)"><text class="nm nA" x="136" y="1.4">CqbZIP49</text><path class="in" d="M169 0H211"/><path class="ex" d="M169 0H181M182.5 0H184M210 0H211.5"/><path class="ml" d="M435 0H498"/><path class="m m12" d="M452 0H457"/><path class="m m1" d="M470 0H477"/><path class="m m4" d="M477 0H484"/><path class="m m8" d="M486 0H496"/></g>
<g id="r77" transform="translate(0,646.1)"><text class="nm nA" x="136" y="1.4">CqbZIP3</text><path class="in" d="M169 0H212"/><path class="ex" d="M169 0H172M173 0H175M178 0H179M182 0H187M205.5 0H208M209.5 0H211.5"/><path class="ml" d="M435 0H515"/><path class="m m12" d="M436 0H441"/><path class="m m8" d="M452 0H462"/><path class="m m1" d="M495 0H502"/><path class="m m4" d="M502 0H509"/></g>
<g id="r78" transform="translate(0,654.1)"><text class="nm nA" x="136" y="1.4">CqbZIP28</text><path class="in" d="M169 0H212"/><path class="ex" d="M169 0H172M173 0H175M178 0H179M182 0H187M205.5 0H208M209.5 0H211.5"/><path class="ml" d="M435 0H515"/><path class="m m12" d="M436 0H441"/><path class="m m8" d="M452 0H462"/><path class="m m1" d="M495 0H502"/><path class="m m4" d="M502 0H509"/></g>
<g id="r79" transform="translate(0,662)"><text class="nm nA" x="136" y="1.4">CqbZIP17</text><path class="in" d="M169 0H253"/><path class="ex" d="M169.5 0H171M236 0H238M239 0H241M242 0H246M252 0H253.5"/><path class="ml" d="M435 0H560"/><path class="m m12" d="M452 0H457"/><path class="m m5" d="M472 0H485"/><path class="m m1" d="M495 0H502"/><path class="m m4" d="M502 0H509"/></g>
<g id="r80" transform="translate(0,670)"><text class="nm nA" x="136" y="1.4">CqbZIP95</text><path class="in" d="M172 0H201"/><path class="ut" d="M169 0H172"/><path class="ex" d="M172 0H187M189 0H190.5M192 0H194M200 0H201.5"/><path class="ml" d="M435 0H540"/><path class="m m10" d="M458 0H465"/><path class="m m1" d="M495 0H502"/><path class="m m4" d="M502 0H509"/></g>
<g id="r81" transform="translate(0,678)"><text class="nm nA" x="136" y="1.4">CqbZIP31</text><path class="ex" d="M169 0H173"/><path class="ml" d="M435 0H466"/><path class="m m1" d="M436 0H443"/></g>
<g id="r82" transform="translate(0,686)"><text class="nm nA" x="136" y="1.4">CqbZIP59</text><path class="ex" d="M169 0H173"/><path class="ml" d="M435 0H466"/><path class="m m1" d="M436 0H443"/></g>
<g id="r83" transform="translate(0,693.9)"><text class="nm nJ" x="136" y="1.4">CqbZIP96</text><path class="in" d="M171.5 0H192"/><path class="ut" d="M169 0H171.5"/><path class="ex" d="M171.5 0H173M174.5 0H176M177.5 0H179M180 0H192"/><path class="ml" d="M435 0H530"/><path class="m m1" d="M455 0H462M500 0H507"/><path class="m m4" d="M462 0H470"/></g>
<g id="r84" transform="translate(0,701.9)"><text class="nm nJ" x="136" y="1.4">CqbZIP75</text><path class="in" d="M169 0H207"/><path class="ex" d="M169 0H170.5M182.5 0H184M185 0H186.5M187.5 0H189M191 0H207"/><path class="ml" d="M435 0H500"/><path class="m m1" d="M455 0H462"/><path class="m m4" d="M462 0H469"/></g>
<g id="r85" transform="translate(0,709.9)"><text class="nm nG" x="136" y="1.4">CqbZIP6</text><path class="in" d="M217 0H257"/><path class="ut" d="M169 0H217"/><path class="ex" d="M217 0H219M220.5 0H222M228 0H230M231 0H233M234 0H236M237 0H240M256 0H257.5"/><path class="ml" d="M435 0H550"/><path class="m m14" d="M441 0H455"/><path class="m m13" d="M455 0H459"/><path class="m m8" d="M459 0H467"/><path class="m m17" d="M472 0H489"/><path class="m m1" d="M512 0H519"/><path class="m m4" d="M519 0H526"/></g>
<g id="r86" transform="translate(0,717.9)"><text class="nm nG" x="136" y="1.4">CqbZIP24</text><path class="in" d="M227 0H260"/><path class="ut" d="M169 0H227"/><path class="ex" d="M227 0H229M230 0H232M237 0H239M240 0H242M243 0H246M259 0H260.5"/><path class="ml" d="M435 0H552"/><path class="m m14" d="M441 0H455"/><path class="m m13" d="M455 0H459"/><path class="m m8" d="M459 0H467"/><path class="m m17" d="M472 0H489"/><path class="m m1" d="M514 0H521"/><path class="m m4" d="M521 0H528"/></g>
<g id="r87" transform="translate(0,725.8)"><text class="nm nG" x="136" y="1.4">CqbZIP19</text><path class="in" d="M175 0H262"/><path class="ut" d="M169 0H175"/><path class="ex" d="M175 0H178M179 0H181M187 0H189M192 0H194M195 0H197M198 0H200M203 0H205M229 0H231M232 0H235M261 0H262.5"/><path class="ml" d="M435 0H548"/><path class="m m14" d="M441 0H455"/><path class="m m13" d="M455 0H459"/><path class="m m8" d="M459 0H467"/><path class="m m17" d="M472 0H489"/><path class="m m1" d="M510 0H517"/><path class="m m4" d="M517 0H524"/></g>
<g id="r88" transform="translate(0,733.8)"><text class="nm nG" x="136" y="1.4">CqbZIP46</text><path class="in" d="M174 0H262"/><path class="ut" d="M169 0H174"/><path class="ex" d="M174 0H177M178 0H180M186 0H188M192 0H194M195 0H197M198 0H200M203 0H205M228 0H230M231 0H234M261 0H262.5"/><path class="ml" d="M435 0H548"/><path class="m m14" d="M441 0H455"/><path class="m m13" d="M455 0H459"/><path class="m m8" d="M459 0H467"/><path class="m m17" d="M472 0H489"/><path class="m m1" d="M510 0H517"/><path class="m m4" d="M517 0H524"/></g>
<g id="r89" transform="translate(0,741.8)"><text class="nm nG" x="136" y="1.4">CqbZIP50</text><path class="in" d="M183 0H246"/><path class="ut" d="M169 0H183"/><path class="ex" d="M183 0H186M187 0H189M190 0H192M193 0H195M198 0H201M215 0H217M218 0H220M224 0H226M236 0H238M239 0H241M244 0H246"/><path class="ml" d="M435 0H547"/><path class="m m14" d="M441 0H455"/><path class="m m13" d="M455 0H459"/><path class="m m8" d="M459 0H467"/><path class="m m17" d="M472 0H489"/><path class="m m1" d="M510 0H517"/><path class="m m4" d="M517 0H524"/><path class="m m4 th" d="M524 0.8H530"/></g>
<g id="r90" transform="translate(0,749.8)"><text class="nm nG" x="136" y="1.4">CqbZIP71</text><path class="in" d="M180 0H244"/><path class="ut" d="M169 0H180"/><path class="ex" d="M180 0H182M183 0H185M186 0H188M190 0H192M198 0H201M216 0H218M223 0H225M235 0H237M238 0H240M242 0H244"/><path class="ml" d="M435 0H553"/><path class="m m14" d="M441 0H455"/><path class="m m13" d="M455 0H459"/><path class="m m8" d="M459 0H467"/><path class="m m17" d="M472 0H489"/><path class="m m1" d="M516 0H523"/><path class="m m4" d="M523 0H530"/><path class="m m4 th" d="M531 0.8H537"/></g>
<g id="r91" transform="translate(0,757.7)"><text class="nm nG" x="136" y="1.4">CqbZIP90</text><path class="in" d="M169 0H207"/><path class="ex" d="M169 0H171M172 0H174M175 0H177M206 0H207.5"/><path class="ml" d="M435 0H469"/><path class="m m1" d="M447 0H455"/><path class="m m4" d="M455 0H461"/><path class="m m4 th" d="M461 0.8H468"/></g>
<g id="r92" transform="translate(0,765.7)"><text class="nm nG" x="136" y="1.4">CqbZIP12</text><path class="in" d="M192 0H230"/><path class="ut" d="M169 0H192"/><path class="ex" d="M192 0H194M195.5 0H197M198 0H200M201 0H204M205 0H207M208 0H211M212 0H215M216 0H220M221 0H224M225 0H230"/><path class="ml" d="M435 0H578"/><path class="m m14" d="M441 0H455"/><path class="m m13" d="M455 0H459"/><path class="m m8" d="M459 0H467"/><path class="m m17 th" d="M480 0.8H497"/><path class="m m18 th" d="M510 0.8H524"/><path class="m m1" d="M531 0H539"/><path class="m m4" d="M539 0H546"/><path class="m m4 th" d="M546 0.8H553"/></g>
<g id="r93" transform="translate(0,773.7)"><text class="nm nG" x="136" y="1.4">CqbZIP54</text><path class="in" d="M192 0H229"/><path class="ut" d="M169 0H192"/><path class="ex" d="M192 0H194M195.5 0H197M198 0H200M201 0H204M205 0H207M208 0H211M212 0H215M216 0H220M221 0H224M225 0H229"/><path class="ml" d="M435 0H578"/><path class="m m14" d="M441 0H455"/><path class="m m13" d="M455 0H459"/><path class="m m8" d="M459 0H467"/><path class="m m17 th" d="M480 0.8H497"/><path class="m m1" d="M531 0H539"/><path class="m m4" d="M539 0H546"/><path class="m m4 th" d="M546 0.8H553"/></g>
</g>

<g id="gene-scale">
<path class="ax" d="M169.5 783.7H416.8M169.5 781.5V783.7M416.8 781.5V783.7"/>
<g class="sm" text-anchor="middle">
<text x="169.5" y="788.5">0kb</text><text x="183.2" y="788.5">1kb</text><text x="197" y="788.5">2kb</text><text x="210.7" y="788.5">3kb</text><text x="224.5" y="788.5">4kb</text><text x="238.2" y="788.5">5kb</text><text x="251.9" y="788.5">6kb</text><text x="265.7" y="788.5">7kb</text><text x="279.4" y="788.5">8kb</text><text x="293.2" y="788.5">9kb</text><text x="306.9" y="788.5">10kb</text><text x="320.6" y="788.5">11kb</text><text x="334.4" y="788.5">12kb</text><text x="348.1" y="788.5">13kb</text><text x="361.9" y="788.5">14kb</text><text x="375.6" y="788.5">15kb</text><text x="389.3" y="788.5">16kb</text><text x="403.1" y="788.5">17kb</text><text x="416.8" y="788.5">18kb</text>
</g>
<text class="lg" x="166.5" y="795">Legend:</text>
<rect x="166.5" y="799.4" width="6" height="2.6" fill="#10dd10"/>
<text class="lg" x="174" y="802">CDS</text>
<path class="ut" d="M187 800.7H193.5"/>
<text class="lg" x="196" y="802">upstream/downstream</text>
<text class="lg" x="236" y="802">0 1 2 intron phase</text>
</g>

<g id="motif-scale">
<g class="bl" text-anchor="middle">
<text x="435" y="788">0</text><text x="468" y="788">100</text><text x="501.5" y="788">200</text><text x="534.5" y="788">300</text><text x="567.5" y="788">400</text><text x="601" y="788">500</text><text x="634" y="788">600</text><text x="667.5" y="788">700</text><text x="700.5" y="788">800</text>
</g>
<g class="lg">
<rect x="432.7" y="792" width="3.4" height="3.2" fill="#f41010"/><text x="437.5" y="795">Motif 1</text>
<rect x="453.7" y="792" width="3.4" height="3.2" fill="#30f0f0"/><text x="458.5" y="795">Motif 2</text>
<rect x="476" y="792" width="3.4" height="3.2" fill="#88f020"/><text x="480.8" y="795">Motif 3</text>
<rect x="498.7" y="792" width="3.4" height="3.2" fill="#8a2be8"/><text x="503.5" y="795">Motif 4</text>
<rect x="521.7" y="792" width="3.4" height="3.2" fill="#f2b030"/><text x="526.5" y="795">Motif 5</text>
<rect x="544.7" y="792" width="3.4" height="3.2" fill="#30ee50"/><text x="549.5" y="795">Motif 6</text>
<rect x="567.7" y="792" width="3.4" height="3.2" fill="#2050f0"/><text x="572.5" y="795">Motif 7</text>
<rect x="591" y="792" width="3.4" height="3.2" fill="#f830c0"/><text x="595.8" y="795">Motif 8</text>
<rect x="614.3" y="792" width="3.4" height="3.2" fill="#f06828"/><text x="619.1" y="795">Motif 9</text>
<rect x="637.7" y="792" width="3.4" height="3.2" fill="#f0f030"/><text x="642.5" y="795">Motif 10</text>
<rect x="432.7" y="799.4" width="3.4" height="3.2" fill="#30ee30"/><text x="437.5" y="802.4">Motif 11</text>
<rect x="453.7" y="799.4" width="3.4" height="3.2" fill="#20dca0"/><text x="458.5" y="802.4">Motif 12</text>
<rect x="476" y="799.4" width="3.4" height="3.2" fill="#30a0e0"/><text x="480.8" y="802.4">Motif 13</text>
<rect x="498.7" y="799.4" width="3.4" height="3.2" fill="#2828e8"/><text x="503.5" y="802.4">Motif 14</text>
<rect x="521.7" y="799.4" width="3.4" height="3.2" fill="#e020f0"/><text x="526.5" y="802.4">Motif 15</text>
<rect x="544.7" y="799.4" width="3.4" height="3.2" fill="#e84878"/><text x="549.5" y="802.4">Motif 16</text>
<rect x="567.7" y="799.4" width="3.4" height="3.2" fill="#f04018"/><text x="572.5" y="802.4">Motif 17</text>
<rect x="591" y="799.4" width="3.4" height="3.2" fill="#f09028"/><text x="595.8" y="802.4">Motif 18</text>
<rect x="614.3" y="799.4" width="3.4" height="3.2" fill="#f8e020"/><text x="619.1" y="802.4">Motif 19</text>
<rect x="637.7" y="799.4" width="3.4" height="3.2" fill="#b8f020"/><text x="642.5" y="802.4">Motif 20</text>
</g>
</g>
</svg>
